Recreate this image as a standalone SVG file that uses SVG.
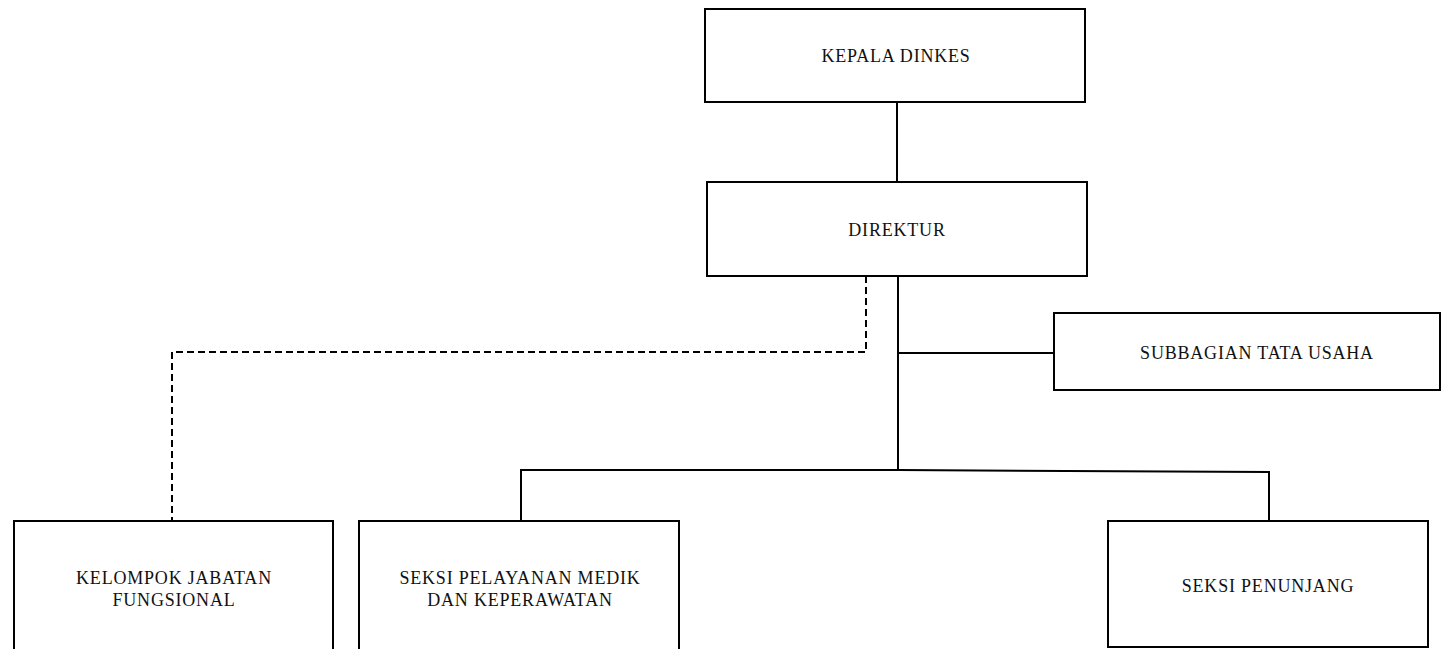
<svg xmlns="http://www.w3.org/2000/svg" width="1442" height="649" viewBox="0 0 1442 649">
<style>
.box{fill:#fff;stroke:#000;stroke-width:2}
.lbl{font-family:"Liberation Serif","Times New Roman",serif;font-size:18px;letter-spacing:0.8px;fill:#111;text-anchor:middle}
.ln{fill:none;stroke:#000;stroke-width:2}
.dash{fill:none;stroke:#000;stroke-width:2;stroke-dasharray:7 4}
</style>
<rect width="1442" height="649" fill="#fff"/>
<g id="connectors">
<line class="ln" x1="897" y1="102" x2="897" y2="182"/>
<polyline class="ln" points="898,276 898,471"/>
<line class="ln" x1="898" y1="353" x2="1054" y2="353"/>
<polyline class="ln" points="521,521 521,470 898,470 1269,472 1269,521"/>
<polyline class="dash" points="866,276 866,352 172,352 172,521"/>
</g>
<g id="kepala">
<rect class="box" x="705" y="9" width="380" height="93"/>
<text class="lbl" x="896" y="62">KEPALA DINKES</text>
</g>
<g id="direktur">
<rect class="box" x="707" y="182" width="380" height="94"/>
<text class="lbl" x="897" y="236">DIREKTUR</text>
</g>
<g id="subbagian">
<rect class="box" x="1054" y="313" width="386" height="77"/>
<text class="lbl" x="1257" y="359">SUBBAGIAN TATA USAHA</text>
</g>
<g id="kelompok">
<rect class="box" x="14" y="521" width="319" height="140"/>
<text class="lbl" x="174" y="584">KELOMPOK JABATAN</text>
<text class="lbl" x="174" y="606">FUNGSIONAL</text>
</g>
<g id="pelayanan">
<rect class="box" x="359" y="521" width="320" height="140"/>
<text class="lbl" x="520" y="584">SEKSI PELAYANAN MEDIK</text>
<text class="lbl" x="520" y="606">DAN KEPERAWATAN</text>
</g>
<g id="penunjang">
<rect class="box" x="1108" y="521" width="320" height="126"/>
<text class="lbl" x="1268" y="592">SEKSI PENUNJANG</text>
</g>
</svg>
